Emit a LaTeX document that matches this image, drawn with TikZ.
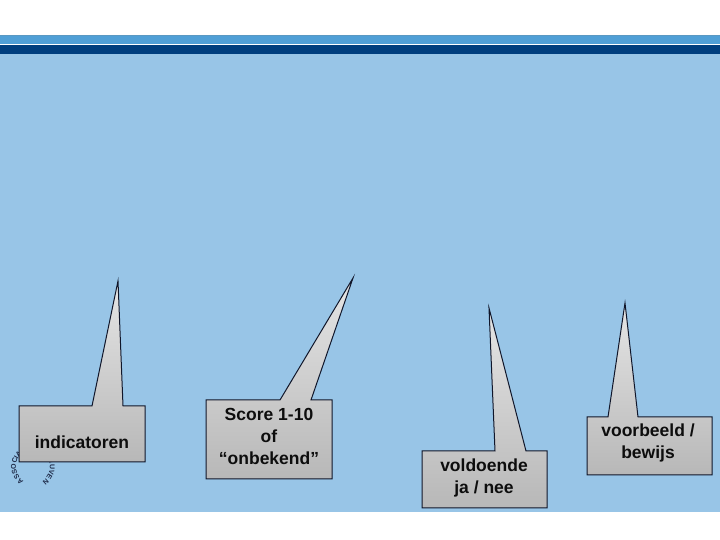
\documentclass[tikz,border=0pt]{standalone}
\usepackage{fontspec}
\setmainfont{Liberation Sans}
\newfontfamily\lsans{Liberation Sans}
\usetikzlibrary{decorations.text}
\definecolor{bgblue}{HTML}{98C5E7}
\definecolor{stripelight}{HTML}{509FD6}
\definecolor{stripeedge}{HTML}{5A98C2}
\definecolor{stripedark}{HTML}{003E7E}
\definecolor{outline}{HTML}{10162A}
\definecolor{logoblue}{HTML}{1E2A48}
\tikzset{
  callout/.style={draw=outline, line width=1pt, line join=miter, top color=black!10, bottom color=black!28},
  calltext/.style={align=center, text=black!95, font=\lsans\bfseries\fontsize{17.5}{22}\selectfont, inner sep=0pt}
}
\begin{document}
\begin{tikzpicture}[x=1pt,y=1pt]
\useasboundingbox (0,0) rectangle (720,540);
% background bands
\fill[white] (0,0) rectangle (720,540);
\fill[bgblue] (0,28) rectangle (720,486);
\fill[stripedark] (0,486) rectangle (720,494.7);
\fill[stripelight] (0,495.7) rectangle (720,505);
\fill[stripeedge] (0,504) rectangle (720,505);
% circular logo text (mostly hidden behind the first callout)
\path[decorate, decoration={text along path, text align=center, text color=logoblue,
  text={|\lsans\bfseries\fontsize{7}{8}\selectfont|ASSOCIATIE K.U.LEUVEN}}]
  (33,73) ++(-90:17) arc[start angle=-90, end angle=-450, radius=17];
% callout 1
\path[callout] (19,78) -- (145,78) -- (145,134) -- (123,134) -- (118,259) -- (92,134) -- (19,134) -- cycle;
\node[calltext] (t1) at (82,98) {indicatoren};
% callout 2
\path[callout] (206,61) -- (332,61) -- (332,140) -- (311,140) -- (353,262) -- (280,140) -- (206,140) -- cycle;
\node[calltext] (t2) at (269,104) {Score 1-10\\of\\“onbekend”};
% callout 3
\path[callout] (422,32) -- (547,32) -- (547,89) -- (526,89) -- (489,232) -- (495,89) -- (422,89) -- cycle;
\node[calltext] (t3) at (484,62.5) {voldoende\\ja / nee};
% callout 4
\path[callout] (587,65) -- (712,65) -- (712,123) -- (638,123) -- (625,237) -- (608,123) -- (587,123) -- cycle;
\node[calltext] (t4) at (648,97) {voorbeeld /\\bewijs};
\end{tikzpicture}
\end{document}
